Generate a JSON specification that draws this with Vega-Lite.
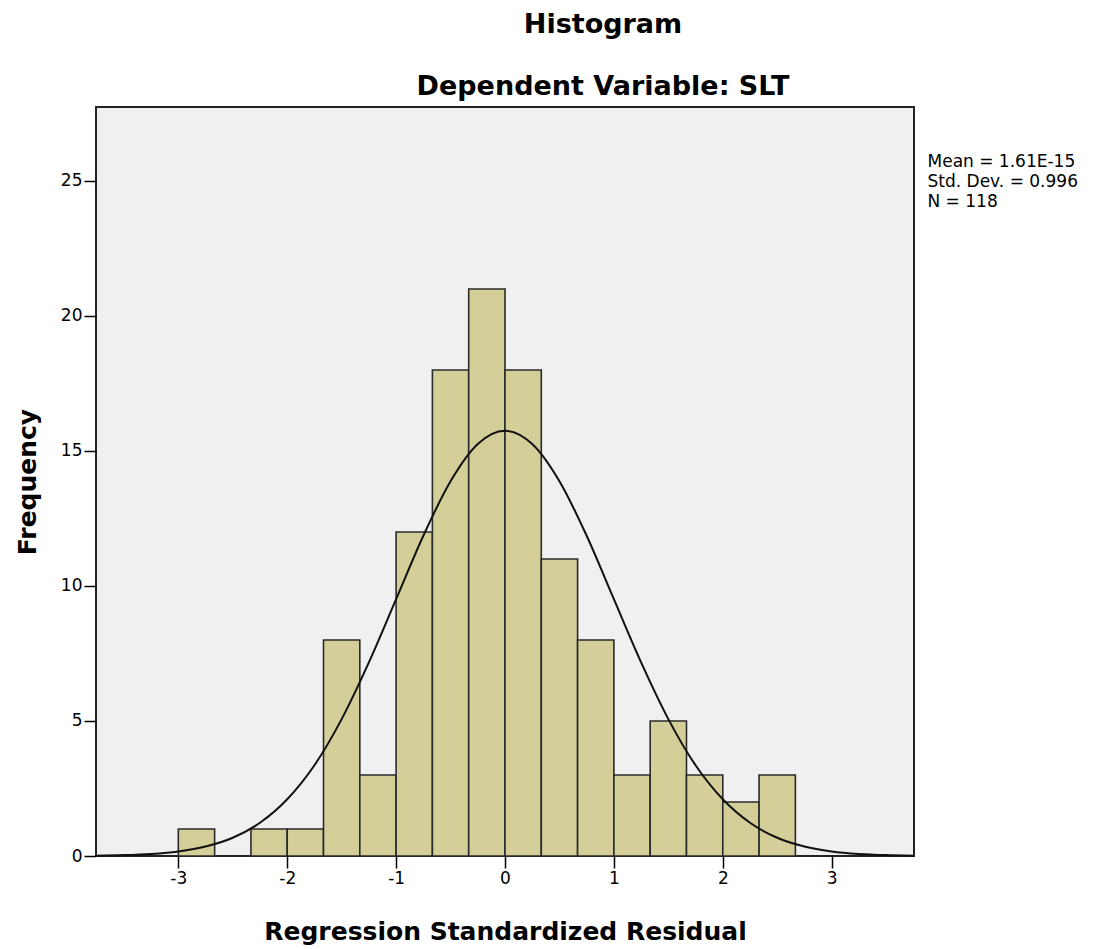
{
  "$schema": "https://vega.github.io/schema/vega-lite/v6.json",
  "autosize": "none",
  "padding": {"left": 96, "top": 107, "right": 183, "bottom": 93},
  "width": 818,
  "height": 749,
  "background": "white",
  "title": {
    "text": ["Histogram", "Dependent Variable: SLT"],
    "font": "DejaVu Sans",
    "fontSize": 27,
    "fontWeight": "bold",
    "lineHeight": 62,
    "anchor": "middle",
    "frame": "group",
    "dx": 98,
    "offset": 6,
    "color": "black"
  },
  "datasets": {
    "bins": [
      {"start": -3.0, "end": -2.6667, "count": 1},
      {"start": -2.6667, "end": -2.3333, "count": 0},
      {"start": -2.3333, "end": -2.0, "count": 1},
      {"start": -2.0, "end": -1.6667, "count": 1},
      {"start": -1.6667, "end": -1.3333, "count": 8},
      {"start": -1.3333, "end": -1.0, "count": 3},
      {"start": -1.0, "end": -0.6667, "count": 12},
      {"start": -0.6667, "end": -0.3333, "count": 18},
      {"start": -0.3333, "end": 0.0, "count": 21},
      {"start": 0.0, "end": 0.3333, "count": 18},
      {"start": 0.3333, "end": 0.6667, "count": 11},
      {"start": 0.6667, "end": 1.0, "count": 8},
      {"start": 1.0, "end": 1.3333, "count": 3},
      {"start": 1.3333, "end": 1.6667, "count": 5},
      {"start": 1.6667, "end": 2.0, "count": 3},
      {"start": 2.0, "end": 2.3333, "count": 2},
      {"start": 2.3333, "end": 2.6667, "count": 3}
    ],
    "curve": [
      {"x": -3.756, "y": 0.013},
      {"x": -3.5, "y": 0.033},
      {"x": -3.25, "y": 0.077},
      {"x": -3.0, "y": 0.169},
      {"x": -2.75, "y": 0.349},
      {"x": -2.5, "y": 0.675},
      {"x": -2.25, "y": 1.23},
      {"x": -2.0, "y": 2.10},
      {"x": -1.75, "y": 3.36},
      {"x": -1.5, "y": 5.07},
      {"x": -1.25, "y": 7.17},
      {"x": -1.0, "y": 9.51},
      {"x": -0.75, "y": 11.86},
      {"x": -0.5, "y": 13.88},
      {"x": -0.25, "y": 15.26},
      {"x": 0.0, "y": 15.75},
      {"x": 0.25, "y": 15.26},
      {"x": 0.5, "y": 13.88},
      {"x": 0.75, "y": 11.86},
      {"x": 1.0, "y": 9.51},
      {"x": 1.25, "y": 7.17},
      {"x": 1.5, "y": 5.07},
      {"x": 1.75, "y": 3.36},
      {"x": 2.0, "y": 2.10},
      {"x": 2.25, "y": 1.23},
      {"x": 2.5, "y": 0.675},
      {"x": 2.75, "y": 0.349},
      {"x": 3.0, "y": 0.169},
      {"x": 3.25, "y": 0.077},
      {"x": 3.5, "y": 0.033},
      {"x": 3.756, "y": 0.013}
    ],
    "stats": [
      {"x": 3.88, "y": 25.52, "label": "Mean = 1.61E-15\nStd. Dev. = 0.996\nN = 118"}
    ]
  },
  "layer": [
    {
      "data": {"name": "bins"},
      "transform": [{"filter": "datum.count > 0"}],
      "mark": {"type": "bar", "fill": "#D4CF98", "stroke": "#2a2a2a", "strokeWidth": 1.6},
      "encoding": {
        "x": {
          "field": "start", "type": "quantitative",
          "scale": {"domain": [-3.756, 3.756], "nice": false, "zero": false},
          "axis": {
            "values": [-3, -2, -1, 0, 1, 2, 3],
            "labelExpr": "'' + datum.value",
            "title": "Regression Standardized Residual",
            "titlePadding": 33
          }
        },
        "x2": {"field": "end"},
        "y": {
          "field": "count", "type": "quantitative",
          "scale": {"domain": [0, 27.74], "nice": false},
          "axis": {
            "values": [0, 5, 10, 15, 20, 25],
            "labelExpr": "'' + datum.value",
            "title": "Frequency",
            "titlePadding": 20
          }
        },
        "y2": {"datum": 0}
      }
    },
    {
      "data": {"name": "curve"},
      "mark": {"type": "line", "color": "#111111", "strokeWidth": 2, "interpolate": "monotone"},
      "encoding": {
        "x": {"field": "x", "type": "quantitative"},
        "y": {"field": "y", "type": "quantitative"}
      }
    },
    {
      "data": {"name": "stats"},
      "mark": {"type": "text", "align": "left", "baseline": "alphabetic", "font": "DejaVu Sans", "fontSize": 17, "lineHeight": 20, "lineBreak": "\n", "color": "black"},
      "encoding": {
        "x": {"field": "x", "type": "quantitative"},
        "y": {"field": "y", "type": "quantitative"},
        "text": {"field": "label"}
      }
    }
  ],
  "config": {
    "view": {"fill": "#F0F0F0", "stroke": "#222222", "strokeWidth": 2},
    "axis": {
      "grid": false,
      "domain": false,
      "ticks": true,
      "tickColor": "black",
      "tickSize": 12,
      "tickWidth": 1.5,
      "labelPadding": 2,
      "labelFont": "DejaVu Sans",
      "labelFontSize": 17,
      "labelColor": "black",
      "titleFont": "DejaVu Sans",
      "titleFontSize": 25,
      "titleFontWeight": "bold",
      "titleColor": "black"
    }
  }
}
